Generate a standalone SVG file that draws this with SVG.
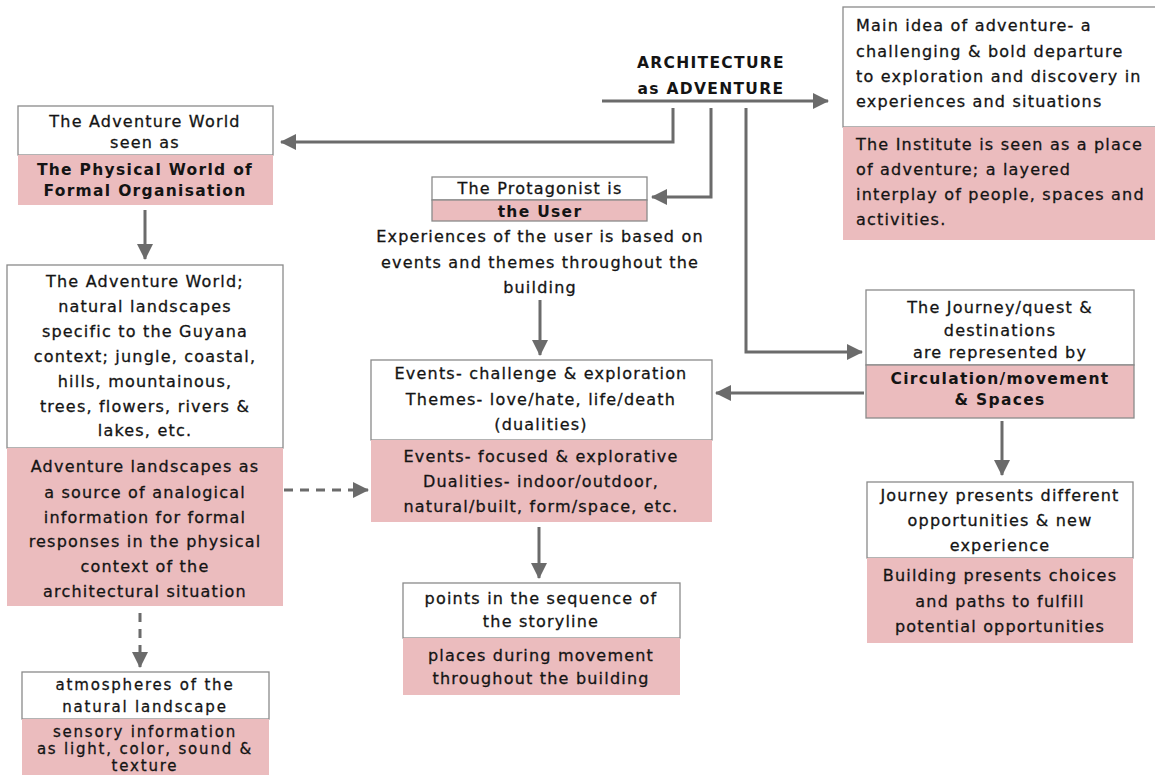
<svg xmlns="http://www.w3.org/2000/svg" width="1155" height="778" viewBox="0 0 1155 778">
<defs>
<style>
.w{fill:#fff;stroke:#8a8a8a;stroke-width:1.3}
.p{fill:#ebbcbe;stroke:none}
.pb{fill:#ebbcbe;stroke:#8a8a8a;stroke-width:1.3}
text{font-family:"DejaVu Sans","Liberation Sans",sans-serif;font-size:16px;letter-spacing:1.2px;fill:#141414;stroke:#141414;stroke-width:0.3px}
.c{text-anchor:middle}
.b{font-weight:bold;font-size:15.5px;letter-spacing:1.3px;stroke-width:0}
.s{font-size:15px;letter-spacing:1.8px}
.ln{stroke:#6b6b6b;stroke-width:3;fill:none}
.dl{stroke:#6b6b6b;stroke-width:3;fill:none;stroke-dasharray:9 7}
</style>
<marker id="ah" markerUnits="userSpaceOnUse" markerWidth="16" markerHeight="16" refX="15" refY="8" orient="auto">
<path d="M0,0 L16,8 L0,16 z" fill="#6b6b6b"/>
</marker>
</defs>
<rect width="1155" height="778" fill="#fff"/>

<g id="title">
<text class="c b" x="711" y="68">ARCHITECTURE</text>
<text class="c b" x="711" y="94">as ADVENTURE</text>
</g>

<g id="connectors">
<line class="ln" x1="602" y1="101" x2="828" y2="101" marker-end="url(#ah)"/>
<polyline class="ln" points="673,108 673,142 281,142" marker-end="url(#ah)"/>
<polyline class="ln" points="711,108 711,197 652,197" marker-end="url(#ah)"/>
<polyline class="ln" points="746,108 746,352 862,352" marker-end="url(#ah)"/>
<line class="ln" x1="145" y1="210" x2="145" y2="259" marker-end="url(#ah)"/>
<line class="ln" x1="540" y1="300" x2="540" y2="355" marker-end="url(#ah)"/>
<line class="ln" x1="864" y1="393" x2="716" y2="393" marker-end="url(#ah)"/>
<line class="ln" x1="539" y1="527" x2="539" y2="578" marker-end="url(#ah)"/>
<line class="ln" x1="1002" y1="421" x2="1002" y2="475" marker-end="url(#ah)"/>
<line class="dl" x1="284" y1="490" x2="368" y2="490" marker-end="url(#ah)"/>
<line class="dl" x1="140" y1="613" x2="140" y2="667" marker-end="url(#ah)"/>
</g>

<g id="main-idea">
<rect class="w" x="843" y="7" width="314" height="120"/>
<rect class="p" x="843" y="127" width="314" height="113"/>
<text x="856" y="31">Main idea of adventure- a</text>
<text x="856" y="57">challenging &amp; bold departure</text>
<text x="856" y="82">to exploration and discovery in</text>
<text x="856" y="107">experiences and situations</text>
<text x="856" y="150">The Institute is seen as a place</text>
<text x="856" y="175">of adventure; a layered</text>
<text x="856" y="200">interplay of people, spaces and</text>
<text x="856" y="225">activities.</text>
</g>

<g id="adventure-world-seen">
<rect class="w" x="18" y="106" width="255" height="49"/>
<rect class="p" x="18" y="155" width="255" height="50"/>
<text class="c" x="145" y="127">The Adventure World</text>
<text class="c" x="145" y="148">seen as</text>
<text class="c b" x="145" y="175">The Physical World of</text>
<text class="c b" x="145" y="196">Formal Organisation</text>
</g>

<g id="protagonist">
<rect class="w" x="432" y="177" width="215" height="23"/>
<rect class="pb" x="432" y="200" width="215" height="21"/>
<text class="c" x="540" y="194">The Protagonist is</text>
<text class="c b" x="540" y="217">the User</text>
<text class="c" x="540" y="242">Experiences of the user is based on</text>
<text class="c" x="540" y="268">events and themes throughout the</text>
<text class="c" x="540" y="293">building</text>
</g>

<g id="adventure-world">
<rect class="w" x="7" y="265" width="276" height="183"/>
<rect class="p" x="7" y="448" width="276" height="158"/>
<text class="c" x="145" y="287">The Adventure World;</text>
<text class="c" x="145" y="312">natural landscapes</text>
<text class="c" x="145" y="337">specific to the Guyana</text>
<text class="c" x="145" y="362">context; jungle, coastal,</text>
<text class="c" x="145" y="387">hills, mountainous,</text>
<text class="c" x="145" y="412">trees, flowers, rivers &amp;</text>
<text class="c" x="145" y="436">lakes, etc.</text>
<text class="c" x="145" y="472">Adventure landscapes as</text>
<text class="c" x="145" y="498">a source of analogical</text>
<text class="c" x="145" y="523">information for formal</text>
<text class="c" x="145" y="547">responses in the physical</text>
<text class="c" x="145" y="572">context of the</text>
<text class="c" x="145" y="597">architectural situation</text>
</g>

<g id="events">
<rect class="w" x="371" y="360" width="341" height="80"/>
<rect class="p" x="371" y="440" width="341" height="82"/>
<text class="c" x="541" y="379">Events- challenge &amp; exploration</text>
<text class="c" x="541" y="405">Themes- love/hate, life/death</text>
<text class="c" x="541" y="430">(dualities)</text>
<text class="c" x="541" y="462">Events- focused &amp; explorative</text>
<text class="c" x="541" y="487">Dualities- indoor/outdoor,</text>
<text class="c" x="541" y="512">natural/built, form/space, etc.</text>
</g>

<g id="journey">
<rect class="w" x="866" y="290" width="268" height="75"/>
<rect class="pb" x="866" y="365" width="268" height="53"/>
<text class="c" x="1000" y="313">The Journey/quest &amp;</text>
<text class="c" x="1000" y="336">destinations</text>
<text class="c" x="1000" y="358">are represented by</text>
<text class="c b" x="1000" y="384">Circulation/movement</text>
<text class="c b" x="1000" y="405">&amp; Spaces</text>
</g>

<g id="opportunities">
<rect class="w" x="867" y="482" width="266" height="76"/>
<rect class="p" x="867" y="558" width="266" height="85"/>
<text class="c" x="1000" y="501">Journey presents different</text>
<text class="c" x="1000" y="526">opportunities &amp; new</text>
<text class="c" x="1000" y="551">experience</text>
<text class="c" x="1000" y="581">Building presents choices</text>
<text class="c" x="1000" y="607">and paths to fulfill</text>
<text class="c" x="1000" y="632">potential opportunities</text>
</g>

<g id="points">
<rect class="w" x="403" y="583" width="277" height="55"/>
<rect class="p" x="403" y="638" width="277" height="57"/>
<text class="c" x="541" y="604">points in the sequence of</text>
<text class="c" x="541" y="627">the storyline</text>
<text class="c" x="541" y="661">places during movement</text>
<text class="c" x="541" y="684">throughout the building</text>
</g>

<g id="atmospheres">
<rect class="w" x="22" y="672" width="247" height="47"/>
<rect class="p" x="22" y="719" width="247" height="56"/>
<text class="c s" x="145" y="690">atmospheres of the</text>
<text class="c s" x="145" y="712">natural landscape</text>
<text class="c s" x="145" y="737">sensory information</text>
<text class="c s" x="145" y="754">as light, color, sound &amp;</text>
<text class="c s" x="145" y="771">texture</text>
</g>
</svg>
